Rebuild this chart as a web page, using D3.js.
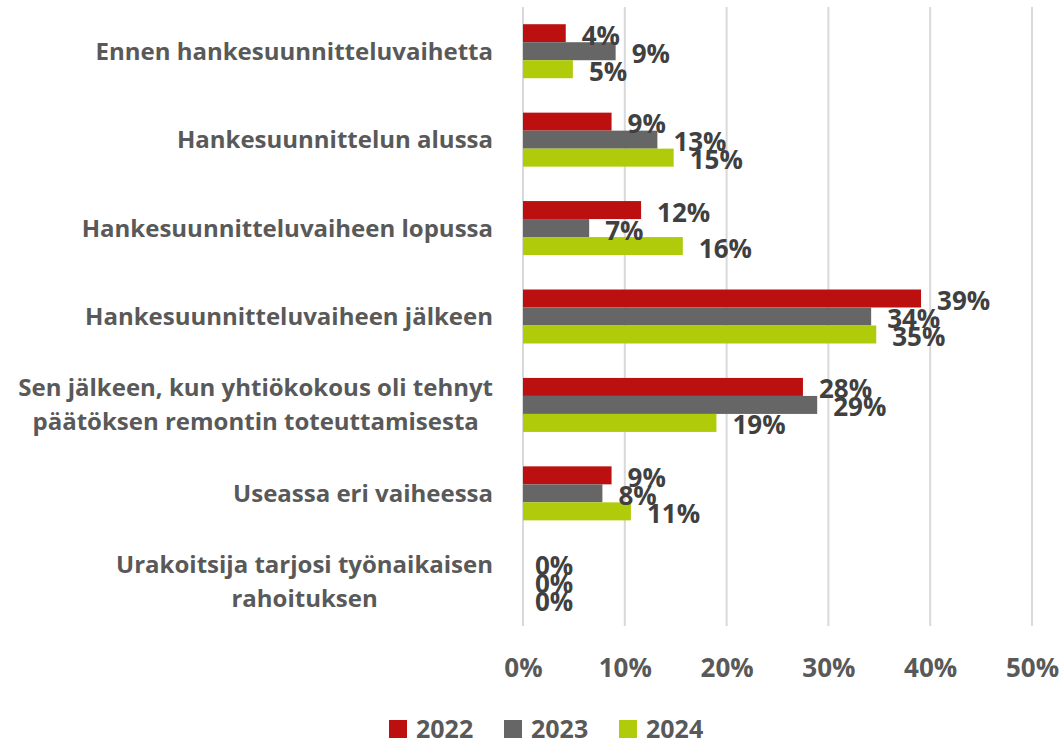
<!DOCTYPE html>
<html lang="fi">
<head>
    <meta charset="UTF-8">
    <title>Rahoitus – vaihe</title>
    <style>
        body {
            margin: 0;
            background: #fff;
            font-family: "Open Sans", Arial, sans-serif;
        }
        svg { display: block; }
    </style>
</head>
<body>
    <svg id="chart" width="1063" height="741"></svg>
    <script src="https://cdnjs.cloudflare.com/ajax/libs/d3/7.8.5/d3.min.js"></script>
    <script>
        // data
        const categories = [
            ['Ennen hankesuunnitteluvaihetta'],
            ['Hankesuunnittelun alussa'],
            ['Hankesuunnitteluvaiheen lopussa'],
            ['Hankesuunnitteluvaiheen jälkeen'],
            ['Sen jälkeen, kun yhtiökokous oli tehnyt', 'päätöksen remontin toteuttamisesta'],
            ['Useassa eri vaiheessa'],
            ['Urakoitsija tarjosi työnaikaisen', 'rahoituksen']
        ];
        const years = ['2022', '2023', '2024'];
        const values2022 = [0.042, 0.087, 0.116, 0.391, 0.275, 0.087, 0];
        const values2023 = [0.091, 0.132, 0.065, 0.342, 0.289, 0.078, 0];
        const values2024 = [0.049, 0.148, 0.157, 0.347, 0.190, 0.106, 0];
        const colors = ['#bc1010', '#666666', '#b0cb0a'];
        const xTicks = [0, 0.1, 0.2, 0.3, 0.4, 0.5];

        const series = [values2022, values2023, values2024];
        const svg = d3.select('#chart');

        const x = d3.scaleLinear().domain([0, 0.5]).range([523, 1032]);
        const y = d3.scaleBand().domain(d3.range(categories.length)).range([7, 626]);
        const yInner = d3.scaleBand().domain(years)
            .range([y.bandwidth() / 2 - 27, y.bandwidth() / 2 + 27]);
        const pct = d3.format('.0%');

        // gridlines
        svg.append('g')
            .selectAll('line')
            .data(xTicks)
            .join('line')
            .attr('x1', d => x(d)).attr('x2', d => x(d))
            .attr('y1', 7).attr('y2', 626)
            .attr('stroke', '#d9d9d9')
            .attr('stroke-width', 2);

        // axis labels
        const xAxis = d3.axisBottom(x).tickValues(xTicks).tickFormat(pct).tickSize(0).tickPadding(0);
        const axisG = svg.append('g').attr('transform', 'translate(0,652)').call(xAxis);
        axisG.select('.domain').remove();
        axisG.selectAll('text')
            .attr('fill', '#595959')
            .attr('font-family', '"Open Sans", sans-serif')
            .attr('font-weight', 700)
            .attr('font-size', 26)
            .attr('dy', '0.95em');

        // bars
        const groups = svg.append('g')
            .selectAll('g')
            .data(categories)
            .join('g')
            .attr('transform', (d, i) => `translate(0,${y(i)})`);

        years.forEach((yr, s) => {
            groups.append('rect')
                .attr('x', x(0))
                .attr('y', yInner(yr))
                .attr('width', (d, i) => x(series[s][i]) - x(0))
                .attr('height', yInner.bandwidth())
                .attr('fill', colors[s]);
        });

        // data labels
        years.forEach((yr, s) => {
            groups.append('text')
                .attr('x', (d, i) => x(series[s][i]) + (series[s][i] === 0 ? 12 : 16))
                .attr('y', yInner(yr) + yInner.bandwidth() / 2 + 11.5)
                .attr('fill', '#404040')
                .attr('font-weight', 700)
                .attr('font-size', 26)
                .text((d, i) => pct(series[s][i]));
        });

        // category labels
        const lineH = 34;
        groups.each(function (lines) {
            const g = d3.select(this);
            const t = g.append('text')
                .attr('fill', '#595959')
                .attr('font-weight', 700)
                .attr('font-size', 24)
                .attr('text-anchor', 'middle');
            const top = y.bandwidth() / 2 - (lines.length - 1) * lineH / 2 + 8.5;
            lines.forEach((ln, k) => {
                t.append('tspan').attr('y', top + k * lineH).text(ln);
            });
            const w = d3.max(t.selectAll('tspan').nodes(), n => n.getComputedTextLength());
            t.selectAll('tspan').attr('x', 493 - w / 2);
        });

        // legend
        const legend = svg.append('g').attr('transform', 'translate(389,720)');
        const legX = [0, 115, 230];
        years.forEach((yr, s) => {
            const item = legend.append('g').attr('transform', `translate(${legX[s]},0)`);
            item.append('rect').attr('width', 18).attr('height', 18).attr('fill', colors[s]);
            item.append('text')
                .attr('x', 27).attr('y', 17.5)
                .attr('fill', '#595959')
                .attr('font-weight', 700)
                .attr('font-size', 25)
                .text(yr);
        });
    </script>
</body>
</html>
